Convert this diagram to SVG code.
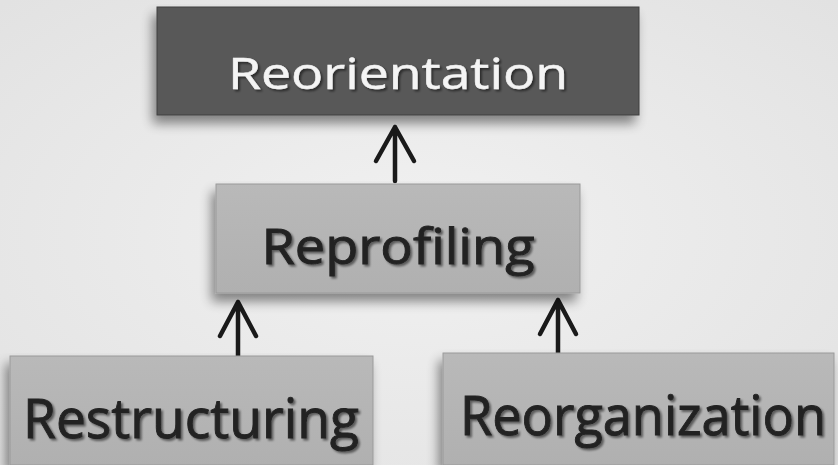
<svg xmlns="http://www.w3.org/2000/svg" width="838" height="465" viewBox="0 0 838 465">
<defs>
<radialGradient id="bg" cx="0.5" cy="0.5" r="0.7">
<stop offset="0" stop-color="#f1f1f1"/>
<stop offset="1" stop-color="#e2e2e2"/>
</radialGradient>
<linearGradient id="lightBox" x1="0" y1="0" x2="0" y2="1">
<stop offset="0" stop-color="#b9b9b9"/>
<stop offset="1" stop-color="#b0b0b0"/>
</linearGradient>
<filter id="boxShadow" x="-10%" y="-10%" width="120%" height="140%">
<feGaussianBlur in="SourceAlpha" stdDeviation="6"/>
<feOffset dx="-4" dy="8" result="b"/>
<feComponentTransfer><feFuncA type="linear" slope="0.45"/></feComponentTransfer>
<feMerge><feMergeNode/><feMergeNode in="SourceGraphic"/></feMerge>
</filter>
<filter id="textShadow" x="-5%" y="-20%" width="110%" height="140%">
<feGaussianBlur in="SourceAlpha" stdDeviation="1"/>
<feOffset dx="2" dy="2"/>
<feComponentTransfer><feFuncA type="linear" slope="0.5"/></feComponentTransfer>
<feMerge><feMergeNode/><feMergeNode in="SourceGraphic"/></feMerge>
</filter>
<style>
.label{font-family:"Open Sans","Liberation Sans",sans-serif;text-anchor:middle}
.dark{fill:#222222;stroke:#222222;stroke-width:0.9}
.light{fill:#f4f4f4;stroke:#f4f4f4;stroke-width:0.5}
.boxL{fill:url(#lightBox);stroke:#9a9a9a;stroke-width:1}
.conn{stroke:#1a1a1a;stroke-width:4.5;stroke-linecap:round;stroke-linejoin:round;fill:none}
</style>
</defs>
<rect width="838" height="465" fill="url(#bg)"/>
<g id="connectors">
<path class="conn" d="M395,181 L395,127 M376,161 L395,127 L414,161"/>
<path class="conn" d="M238,356 L238,302 M220,336 L238,302 L256,336"/>
<path class="conn" d="M558,353 L558,300 M540,334 L558,300 L576,334"/>
</g>
<g id="reorientation">
<rect x="157" y="7" width="482" height="108" fill="#585858" stroke="#3e3e3e" stroke-width="1" filter="url(#boxShadow)"/>
<text class="label light" x="398" y="89" font-size="44" textLength="340" lengthAdjust="spacingAndGlyphs" filter="url(#textShadow)">Reorientation</text>
</g>
<g id="reprofiling">
<rect class="boxL" x="216" y="184" width="364" height="109" filter="url(#boxShadow)"/>
<text class="label dark" x="398" y="264" font-size="50" textLength="273" lengthAdjust="spacingAndGlyphs" filter="url(#textShadow)">Reprofiling</text>
</g>
<g id="restructuring">
<rect class="boxL" x="10" y="356" width="363" height="109" filter="url(#boxShadow)"/>
<text class="label dark" x="191" y="438" font-size="54" textLength="336" lengthAdjust="spacingAndGlyphs" filter="url(#textShadow)">Restructuring</text>
</g>
<g id="reorganization">
<rect class="boxL" x="443" y="353" width="391" height="112" filter="url(#boxShadow)"/>
<text class="label dark" x="643" y="435" font-size="54" textLength="366" lengthAdjust="spacingAndGlyphs" filter="url(#textShadow)">Reorganization</text>
</g>
</svg>
